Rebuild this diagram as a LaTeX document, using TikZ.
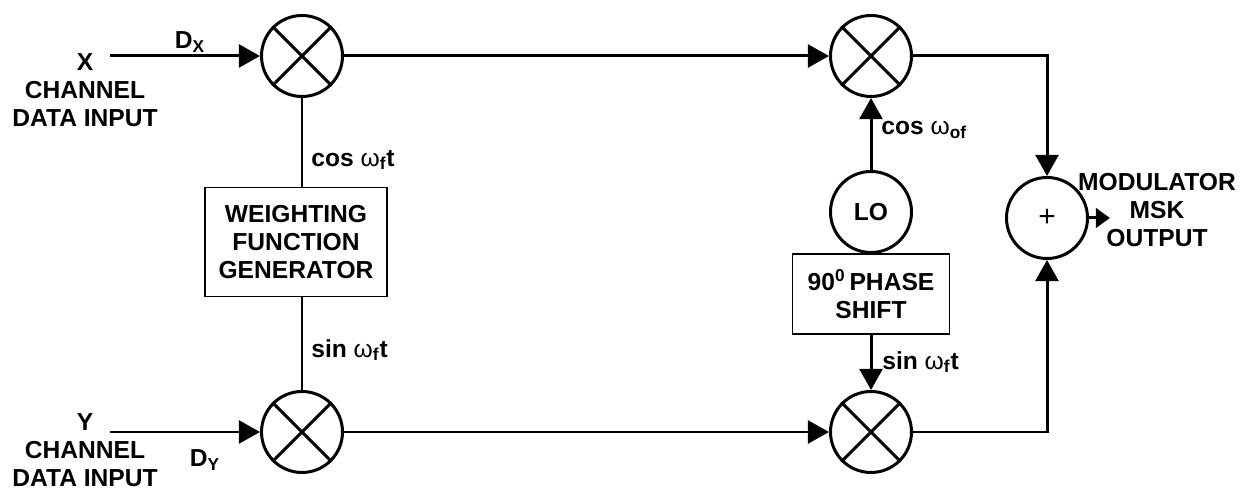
\documentclass[tikz,border=0pt]{standalone}
\usepackage{fontspec}
\setmainfont{Liberation Sans}
\usepackage{tikz}
\usetikzlibrary{calc,arrows.meta}
\tikzset{
  wire/.style={draw=black, line width=1.7pt},
  arr/.style={wire, -{Triangle[length=12pt,width=13pt]}},
  mix/.style={circle, draw=black, line width=1.7pt, minimum size=1.62cm, inner sep=0pt},
  blk/.style={draw=black, line width=1pt, align=center, inner sep=0pt},
  lab/.style={font=\fontsize{14}{16}\selectfont\bfseries, align=center},
  sig/.style={font=\fontsize{14}{16}\selectfont, anchor=west, inner sep=0pt},
}

\begin{document}
\begin{tikzpicture}
  \useasboundingbox (0,0) rectangle (24.96,9.82);

  % multipliers and summer
  \node[mix] (mx)  at (6.04,8.70) {};
  \node[mix] (my)  at (6.04,1.18) {};
  \node[mix] (mxr) at (17.42,8.70) {};
  \node[mix] (myr) at (17.42,1.18) {};
  \node[mix,lab] (lo)  at (17.42,5.58) {LO};
  \node[mix,font=\fontsize{17}{18}\selectfont] (sum) at (20.94,5.46) {+};
  \foreach \m in {mx,my,mxr,myr}
    \draw[wire] (\m.north west) -- (\m.south east) (\m.north east) -- (\m.south west);

  % boxes
  \node[blk,lab,minimum width=3.64cm,minimum height=2.18cm] (wfg) at (5.92,4.98)
    {WEIGHTING\\FUNCTION\\GENERATOR};
  \node[blk,lab,minimum width=3.14cm,minimum height=1.6cm] (ps) at (17.42,3.94)
    {90\textsuperscript{0}\,PHASE\\SHIFT};

  % inputs and output
  \coordinate (xin) at (2.20,8.70);
  \coordinate (yin) at (2.20,1.18);
  \coordinate (out) at (22.20,5.46);
  \node[lab] (xlab) at (1.70,8.02) {X\\CHANNEL\\DATA INPUT};
  \node[lab] (ylab) at (1.70,0.82) {Y\\CHANNEL\\DATA INPUT};
  \node[lab] (olab) at (23.14,5.62) {MODULATOR\\MSK\\OUTPUT};
  \node[lab] (dx) at (3.80,8.98) {D\textsubscript{X}};
  \node[lab] (dy) at (4.10,0.62) {D\textsubscript{Y}};

  % signal labels
  \node[sig] (c1) at (6.22,6.62) {\textbf{cos} ω\textsubscript{\bfseries f}\textbf{t}};
  \node[sig] (s1) at (6.22,2.82) {\textbf{sin} ω\textsubscript{\bfseries f}\textbf{t}};
  \node[sig] (c2) at (17.62,7.22) {\textbf{cos} ω\textsubscript{\bfseries of}};
  \node[sig] (s2) at (17.64,2.58) {\textbf{sin} ω\textsubscript{\bfseries f}\textbf{t}};

  % connections
  \draw[arr] (xin) -- (mx);
  \draw[arr] (yin) -- (my);
  \draw[wire] (mx.south) -- (mx.south |- wfg.north);
  \draw[wire] (my.north |- wfg.south) -- (my.north);
  \draw[arr] (mx) -- (mxr);
  \draw[arr] (my) -- (myr);
  \draw[arr] (lo) -- (mxr);
  \draw[wire] (lo) -- (ps);
  \draw[arr] (ps) -- (myr);
  \draw[arr] (mxr.east) -| (sum.north);
  \draw[arr] (myr.east) -| (sum.south);
  \draw[wire,-{Triangle[length=8pt,width=11pt]}] (sum) -- (out);
\end{tikzpicture}
\end{document}
